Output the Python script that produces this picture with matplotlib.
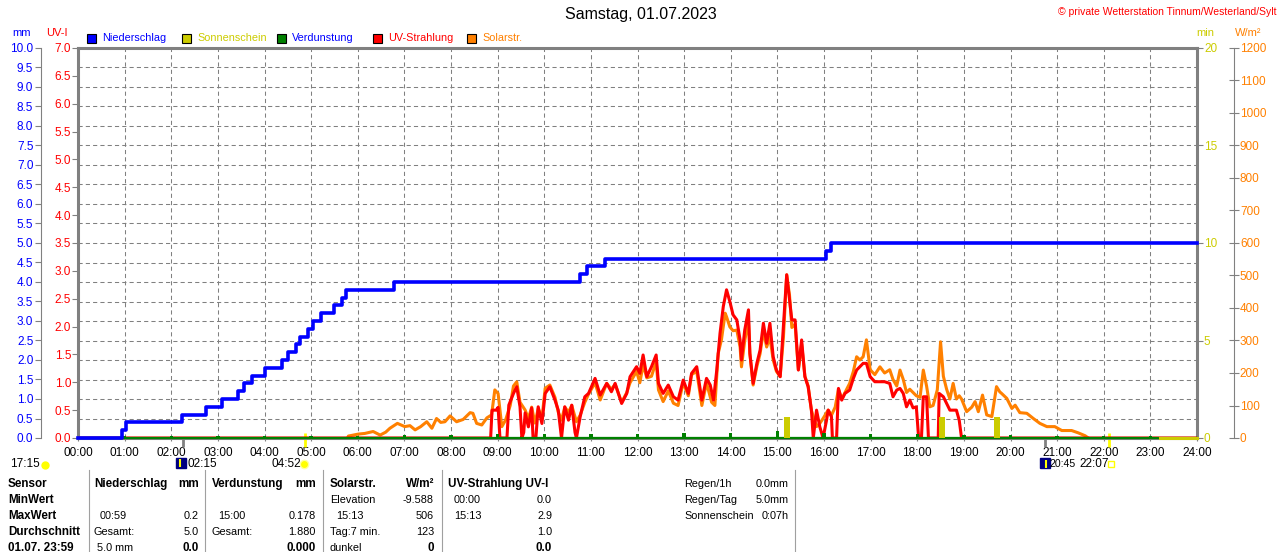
import matplotlib
matplotlib.use("Agg")
import numpy as np
import matplotlib.pyplot as plt
from matplotlib.lines import Line2D
from matplotlib.patches import Rectangle
from matplotlib.ticker import MultipleLocator

plt.rcParams['font.family'] = ['Liberation Sans', 'DejaVu Sans']

W, H = 1280, 552

# Niederschlag kumuliert (mm)
rain_t = [0.0, 0.95, 1.02, 2.23, 2.74, 3.09, 3.43, 3.55, 3.74, 4.01, 4.37, 4.51, 4.67, 4.76,
          4.93, 5.05, 5.21, 5.48, 5.66, 5.74, 6.78, 10.77, 10.92, 11.30, 16.04, 16.16, 24.0]
rain_mm = [0.0, 0.2, 0.4, 0.6, 0.8, 1.0, 1.2, 1.4, 1.6, 1.8, 2.0, 2.2, 2.4, 2.6,
           2.8, 3.0, 3.2, 3.4, 3.6, 3.8, 4.0, 4.2, 4.4, 4.6, 4.8, 5.0, 5.0]

# Verdunstung pro Stunde (mm)
evap_t = list(range(1, 24))
evap_mm = [0.05, 0.05, 0.05, 0.05, 0.05, 0.06, 0.07, 0.08, 0.09, 0.10, 0.10, 0.11,
           0.12, 0.14, 0.178, 0.12, 0.10, 0.09, 0.08, 0.07, 0.06, 0.05, 0.05]

# Sonnenschein (min)
sun_t = [15.21, 18.54, 19.72]
sun_min = [1.1, 1.1, 1.1]
sun_line_t = [23.2, 24.0]
sun_line_v = [0, 0]

# Solarstrahlung (W/m²)
solar_t = [5.78, 5.80, 6.01, 6.15, 6.33, 6.48, 6.60, 6.69, 6.85, 7.01, 7.12, 7.23, 7.35, 7.48,
           7.59, 7.69, 7.78, 7.87, 7.98, 8.12, 8.26, 8.41, 8.47, 8.55, 8.66, 8.77, 8.87, 8.94,
           9.01, 9.09, 9.17, 9.27, 9.34, 9.41, 9.48, 9.59, 9.66, 9.73, 9.80, 9.87, 9.95, 10.02,
           10.12, 10.23, 10.30, 10.37, 10.44, 10.52, 10.59, 10.69, 10.77, 10.87, 10.95, 11.09,
           11.20, 11.34, 11.44, 11.52, 11.66, 11.77, 11.84, 11.98, 12.05, 12.12, 12.20, 12.30,
           12.40, 12.45, 12.55, 12.66, 12.77, 12.87, 12.98, 13.09, 13.16, 13.27, 13.38, 13.48,
           13.59, 13.66, 13.73, 13.80, 13.88, 13.91, 13.98, 14.05, 14.13, 14.20, 14.23, 14.30,
           14.38, 14.41, 14.48, 14.56, 14.63, 14.70, 14.77, 14.84, 14.91, 14.98, 15.06, 15.13,
           15.20, 15.26, 15.31, 15.38, 15.45, 15.52, 15.59, 15.66, 15.73, 15.77, 15.84, 15.91,
           15.98, 16.09, 16.16, 16.24, 16.31, 16.38, 16.45, 16.55, 16.63, 16.70, 16.77, 16.84,
           16.91, 16.99, 17.09, 17.20, 17.30, 17.41, 17.48, 17.56, 17.63, 17.70, 17.77, 17.84,
           17.91, 17.98, 18.06, 18.13, 18.20, 18.27, 18.34, 18.43, 18.50, 18.56, 18.63, 18.70,
           18.77, 18.84, 18.90, 18.95, 19.06, 19.17, 19.24, 19.31, 19.40, 19.49, 19.60, 19.70,
           19.77, 19.81, 19.92, 20.03, 20.10, 20.20, 20.35, 20.49, 20.63, 20.78, 20.95, 21.10,
           21.31, 21.45, 21.60, 21.67]
solar_w = [0, 6, 12, 14, 20, 9, 18, 30, 45, 35, 38, 25, 35, 50,
           30, 60, 48, 50, 68, 50, 57, 78, 76, 45, 40, 62, 71, 148,
           137, 35, 55, 100, 160, 173, 110, 86, 60, 95, 46, 90, 60, 153,
           163, 125, 80, 55, 95, 80, 100, 50, 70, 110, 135, 170,
           117, 168, 150, 165, 110, 140, 170, 205, 170, 225, 185, 190,
           235, 148, 112, 145, 107, 100, 170, 130, 195, 205, 100, 170,
           110, 100, 260, 302, 384, 373, 342, 330, 332, 280, 219, 300,
           360, 260, 163, 220, 260, 330, 280, 310, 240, 205, 189, 310,
           502, 440, 340, 350, 210, 290, 190, 160, 85, 66, 35, 45,
           60, 86, 70, 95, 150, 120, 140, 168, 205, 250, 240, 250,
           302, 210, 195, 219, 200, 210, 180, 160, 209, 180, 140, 150,
           140, 130, 125, 209, 160, 96, 100, 148, 296, 190, 150, 120,
           168, 120, 130, 120, 81, 95, 112, 81, 132, 71, 66, 158,
           142, 137, 122, 91, 101, 78, 76, 60, 45, 35, 35, 23,
           23, 16, 7, 0]

# UV-Strahlung (UV-I)
uv_t = [0.0, 8.85, 8.88, 8.97, 9.01, 9.05, 9.20, 9.24, 9.34, 9.41, 9.48, 9.52, 9.56, 9.59,
        9.66, 9.73, 9.76, 9.82, 9.87, 9.95, 10.02, 10.12, 10.23, 10.30, 10.37, 10.44, 10.52,
        10.59, 10.66, 10.69, 10.77, 10.87, 10.95, 11.09, 11.20, 11.34, 11.44, 11.52, 11.66,
        11.77, 11.84, 11.98, 12.05, 12.12, 12.20, 12.30, 12.40, 12.45, 12.55, 12.66, 12.77,
        12.87, 12.98, 13.09, 13.16, 13.27, 13.38, 13.48, 13.56, 13.63, 13.70, 13.77, 13.84,
        13.91, 13.98, 14.05, 14.13, 14.20, 14.23, 14.30, 14.38, 14.41, 14.48, 14.56, 14.63,
        14.70, 14.77, 14.84, 14.91, 14.98, 15.06, 15.13, 15.20, 15.26, 15.31, 15.38, 15.45,
        15.52, 15.59, 15.66, 15.73, 15.77, 15.84, 15.91, 15.98, 16.05, 16.09, 16.16, 16.18,
        16.27, 16.31, 16.38, 16.45, 16.55, 16.63, 16.70, 16.77, 16.84, 16.91, 16.99, 17.09,
        17.20, 17.30, 17.41, 17.48, 17.56, 17.63, 17.70, 17.77, 17.84, 17.91, 17.98, 18.03,
        18.09, 18.13, 18.20, 18.24, 18.45, 18.47, 18.56, 18.63, 18.70, 18.77, 18.84, 18.90,
        18.95, 24.0]
uv_i = [0.0, 0.0, 0.5, 0.5, 0.55, 0.0, 0.0, 0.59, 0.8, 0.92, 0.56, 0.0, 0.1, 0.45,
        0.2, 0.54, 0.0, 0.0, 0.56, 0.26, 0.8, 0.92, 0.68, 0.5, 0.0, 0.56, 0.32,
        0.59, 0.1, 0.0, 0.38, 0.74, 0.8, 1.07, 0.77, 0.98, 0.83, 0.98, 0.62,
        0.8, 1.1, 1.28, 1.16, 1.49, 1.1, 1.28, 1.49, 0.98, 0.8, 0.95, 0.74,
        0.68, 1.04, 0.8, 1.16, 1.28, 0.68, 1.07, 0.95, 0.68, 1.22, 1.88, 2.36,
        2.66, 2.45, 2.21, 2.12, 1.76, 1.4, 1.94, 2.3, 1.52, 0.98, 1.34, 1.58,
        2.06, 1.7, 2.06, 1.46, 1.22, 1.1, 2.0, 2.93, 2.48, 2.12, 2.12, 1.22,
        1.76, 1.1, 0.92, 0.5, 0.0, 0.5, 0.2, 0.0, 0.3, 0.5, 0.38, 0.0,
        0.0, 0.89, 0.68, 0.8, 0.86, 1.07, 1.22, 1.28, 1.34, 1.34, 1.1, 1.01,
        1.01, 1.01, 0.98, 0.74, 0.86, 0.89, 0.8, 0.56, 0.68, 0.54, 0.56, 0.0,
        0.0, 0.74, 0.74, 0.0, 0.0, 0.8, 0.74, 0.62, 0.5, 0.5, 0.5, 0.32,
        0.0, 0.0]

# Daemmerung / Sonnenauf- und -untergang (h)
twilight_t = [2.25, 20.75]
sunrise_set_t = [4.867, 22.117]

GRAY = '#808080'
BLUE = '#0000ff'
RED = '#ff0000'
ORANGE = '#ff8000'
YELLOW = '#cccc00'
GREEN = '#008000'


def fx(x):
    return x / W


def fy(y):
    return 1 - y / H


fig = plt.figure(figsize=(W / 100, H / 100), dpi=100)
ax = fig.add_axes([78 / W, 1 - 438 / H, 1119 / W, 390 / H])
ax_w = ax.twinx()
ax_uv = ax.twinx()
ax_mm = ax.twinx()
ax_sun = ax.twinx()

ax.set_xlim(0, 24)
ax.set_ylim(0, 20)
ax.set_xticks(range(25))
ax.set_xticklabels([f"{h:02d}:00" for h in range(25)], fontsize=8.5)
ax.tick_params(axis='x', length=2.5, color=GRAY, pad=4)
ax.yaxis.tick_right()
ax.set_yticks([0, 5, 10, 15, 20])
ax.yaxis.set_minor_locator(MultipleLocator(1))
ax.tick_params(axis='y', which='major', length=4, color=GRAY, labelcolor=YELLOW,
               labelsize=8.5, pad=1)
ax.tick_params(axis='y', which='minor', length=0)
ax.set_axisbelow(True)
ax.grid(axis='y', which='both', color=GRAY, lw=0.75, ls=(0, (4, 3)))
ax.grid(axis='x', which='major', color=GRAY, lw=0.75, ls=(0, (4, 3)))
for s in ax.spines.values():
    s.set_color(GRAY)
    s.set_linewidth(2.2)

# Ereignis-Striche an der Zeitachse
ax.vlines(twilight_t, -0.023, 0.0, color=GRAY, lw=2, transform=ax.get_xaxis_transform(),
          clip_on=False)
ax.vlines(sunrise_set_t, -0.023, 0.013, color='#ffff00', lw=2,
          transform=ax.get_xaxis_transform(), clip_on=False)

# W/m² Achse
ax_w.set_ylim(0, 1200)
for s in ax_w.spines.values():
    s.set_visible(False)
ax_w.spines['right'].set_visible(True)
ax_w.spines['right'].set_position(('axes', (1234 - 78) / 1119))
ax_w.spines['right'].set_color(GRAY)
ax_w.spines['right'].set_linewidth(0.8)
ax_w.set_yticks(range(0, 1201, 100))
ax_w.tick_params(axis='y', direction='inout', length=6.5, color=GRAY, labelcolor=ORANGE,
                 labelsize=8.5, pad=1)
ax_w.plot(solar_t, solar_w, color=ORANGE, lw=2.2)

# UV-I Achse
ax_uv.set_ylim(0, 7)
for s in ax_uv.spines.values():
    s.set_visible(False)
ax_uv.yaxis.tick_left()
ax_uv.set_yticks(np.arange(0, 7.01, 0.5))
ax_uv.set_yticklabels([f"{v:.1f}" for v in np.arange(0, 7.01, 0.5)])
ax_uv.tick_params(axis='y', length=4, color=GRAY, labelcolor=RED, labelsize=8.5, pad=1)
ax_uv.plot(uv_t, uv_i, color=RED, lw=2.2)

# mm Achse
ax_mm.set_ylim(0, 10)
for s in ax_mm.spines.values():
    s.set_visible(False)
ax_mm.spines['left'].set_visible(True)
ax_mm.spines['left'].set_position(('axes', (41 - 78) / 1119))
ax_mm.spines['left'].set_color(GRAY)
ax_mm.spines['left'].set_linewidth(0.8)
ax_mm.yaxis.tick_left()
ax_mm.set_yticks(np.arange(0, 10.01, 0.5))
ax_mm.set_yticklabels([f"{v:.1f}" for v in np.arange(0, 10.01, 0.5)])
ax_mm.tick_params(axis='y', length=4, color=GRAY, labelcolor=BLUE, labelsize=8.5, pad=1.5)
ax_mm.axhline(0, color=GREEN, lw=1.6, clip_on=False)
ax_mm.bar(evap_t, evap_mm, width=0.07, color=GREEN)
ax_mm.step(rain_t, rain_mm, where='post', color=BLUE, lw=2.6, clip_on=False)

# Sonnenschein
ax_sun.set_ylim(0, 20)
for s in ax_sun.spines.values():
    s.set_visible(False)
ax_sun.set_yticks([])
ax_sun.bar(sun_t, sun_min, width=0.13, color=YELLOW)
ax_sun.plot(sun_line_t, sun_line_v, color=YELLOW, lw=2.2, clip_on=False)

# Kopfzeile
fig.text(fx(641), fy(15), 'Samstag, 01.07.2023', ha='center', va='center', fontsize=11.5)
fig.text(fx(1276), fy(12), '© private Wetterstation Tinnum/Westerland/Sylt', ha='right',
         va='center', fontsize=7.5, color=RED)
fig.text(fx(22), fy(33), 'mm', ha='center', va='center', fontsize=8, color=BLUE)
fig.text(fx(57), fy(33), 'UV-I', ha='center', va='center', fontsize=8, color=RED)
fig.text(fx(1205), fy(33), 'min', ha='center', va='center', fontsize=8, color=YELLOW)
fig.text(fx(1248), fy(33), 'W/m²', ha='center', va='center', fontsize=8, color=ORANGE)

legend = [('Niederschlag', BLUE, BLUE, 87), ('Sonnenschein', YELLOW, YELLOW, 182),
          ('Verdunstung', GREEN, BLUE, 277), ('UV-Strahlung', RED, RED, 373),
          ('Solarstr.', ORANGE, ORANGE, 467)]
for label, fc, tc, x in legend:
    fig.add_artist(Rectangle((fx(x), fy(43)), 9 / W, 9 / H, facecolor=fc, edgecolor='black',
                             lw=0.8, transform=fig.transFigure))
    fig.text(fx(x + 15), fy(38), label, ha='left', va='center', fontsize=7.8, color=tc)

# Zeile unter der Zeitachse
fig.text(fx(10), fy(464), '17:15', ha='left', va='center', fontsize=8.5)
fig.add_artist(Line2D([fx(45)], [fy(465)], marker='o', ms=5, color='#ffff00',
                      transform=fig.transFigure))
fig.add_artist(Line2D([fx(181)], [fy(463)], marker='s', ms=7, color='#000080',
                      transform=fig.transFigure))
fig.add_artist(Line2D([fx(180)], [fy(463)], marker='|', ms=6, mew=1.5, color='#ffff00',
                      transform=fig.transFigure))
fig.text(fx(187), fy(464), '02:15', ha='left', va='center', fontsize=8.5)
fig.text(fx(271), fy(464), '04:52', ha='left', va='center', fontsize=8.5)
fig.add_artist(Line2D([fx(304)], [fy(464)], marker='o', ms=6, color='#ffff00', mec='#ffffa0',
                      transform=fig.transFigure))
fig.add_artist(Line2D([fx(1045)], [fy(463)], marker='s', ms=7, color='#000080',
                      transform=fig.transFigure))
fig.add_artist(Line2D([fx(1046)], [fy(464)], marker='|', ms=6, mew=1.5, color='#ffff00',
                      transform=fig.transFigure))
fig.text(fx(1050), fy(464), '20:45', ha='left', va='center', fontsize=7.6)
fig.text(fx(1079), fy(464), '22:07', ha='left', va='center', fontsize=8.5)
fig.add_artist(Line2D([fx(1111)], [fy(464)], marker='s', ms=5, mfc='none', mec='#ffff00',
                      mew=1, transform=fig.transFigure))

# Tabelle
for x in [89, 205, 323, 442, 795]:
    fig.add_artist(Line2D([fx(x), fx(x)], [fy(470), fy(552)], color='#a0a0a0', lw=0.8))

rows_y = [484, 500, 516, 532, 548]
table_left = [
    (8, 0, 'Sensor', True), (8, 1, 'MinWert', True), (8, 2, 'MaxWert', True),
    (8, 3, 'Durchschnitt', True), (8, 4, '01.07. 23:59', True),
    (94, 0, 'Niederschlag', True), (100, 2, '00:59', False), (94, 3, 'Gesamt:', False),
    (97, 4, '5.0 mm', False),
    (212, 0, 'Verdunstung', True), (218, 2, '15:00', False), (212, 3, 'Gesamt:', False),
    (330, 0, 'Solarstr.', True), (330, 1, 'Elevation', False), (336, 2, '15:13', False),
    (330, 3, 'Tag:7 min.', False), (330, 4, 'dunkel', False),
    (448, 0, 'UV-Strahlung UV-I', True), (454, 1, '00:00', False), (454, 2, '15:13', False),
    (684, 0, 'Regen/1h', False), (684, 1, 'Regen/Tag', False), (684, 2, 'Sonnenschein', False),
]
table_right = [
    (199, 0, 'mm', True), (199, 2, '0.2', False), (199, 3, '5.0', False), (199, 4, '0.0', True),
    (316, 0, 'mm', True), (316, 2, '0.178', False), (316, 3, '1.880', False),
    (316, 4, '0.000', True),
    (434, 0, 'W/m²', True), (434, 1, '-9.588', False), (434, 2, '506', False),
    (434, 3, '123', False), (434, 4, '0', True),
    (552, 1, '0.0', False), (552, 2, '2.9', False), (552, 3, '1.0', False), (552, 4, '0.0', True),
    (789, 0, '0.0mm', False), (789, 1, '5.0mm', False), (789, 2, '0:07h', False),
]
for x, r, txt, bold in table_left:
    fig.text(fx(x), fy(rows_y[r]), txt, ha='left', va='center',
             fontsize=8.4 if bold else 7.8, fontweight='bold' if bold else 'normal')
for x, r, txt, bold in table_right:
    fig.text(fx(x), fy(rows_y[r]), txt, ha='right', va='center',
             fontsize=8.4 if bold else 7.8, fontweight='bold' if bold else 'normal')

fig.savefig('out.png', dpi=100)
